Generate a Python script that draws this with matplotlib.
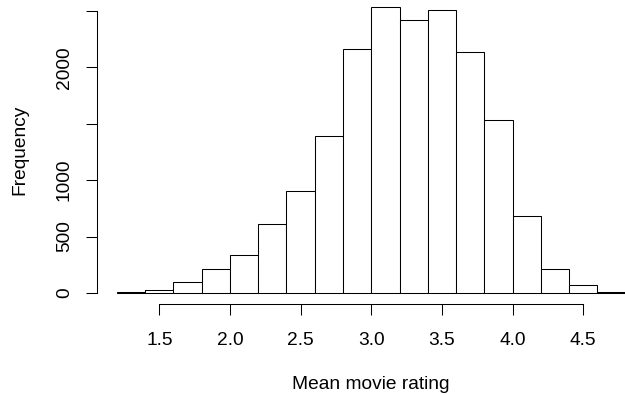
import matplotlib
matplotlib.use("Agg")
import matplotlib.pyplot as plt
import numpy as np

plt.rcParams['font.family'] = ['Liberation Sans', 'DejaVu Sans']

# histogram of mean movie ratings, bins of width 0.2
bin_edges = [1.2, 1.4, 1.6, 1.8, 2.0, 2.2, 2.4, 2.6, 2.8, 3.0,
             3.2, 3.4, 3.6, 3.8, 4.0, 4.2, 4.4, 4.6, 4.8]
counts = [10, 27, 95, 213, 339, 608, 901, 1391, 2164, 2536,
          2421, 2504, 2132, 1532, 679, 213, 74, 12]

x_ticks = [1.5, 2.0, 2.5, 3.0, 3.5, 4.0, 4.5]
x_tick_labels = ["1.5", "2.0", "2.5", "3.0", "3.5", "4.0", "4.5"]
y_ticks = [0, 500, 1000, 1500, 2000, 2500]
y_tick_labels = ["0", "500", "1000", "", "2000", ""]

fig = plt.figure(figsize=(6.25, 3.95), dpi=100)
ax = fig.add_axes([0.1544, 0.2294, 0.8792, 0.7825])

edges = np.array(bin_edges)
ax.bar(edges[:-1], counts, width=np.diff(edges), align='edge',
       facecolor='white', edgecolor='black', linewidth=0.75)

# R style: 4% extension on both axes
x_rng = edges[-1] - edges[0]
ax.set_xlim(edges[0] - 0.04 * x_rng, edges[-1] + 0.04 * x_rng)
ymax = max(counts)
ax.set_ylim(-0.04 * ymax, 1.04 * ymax)

for s in ['top', 'right']:
    ax.spines[s].set_visible(False)
ax.spines['left'].set_bounds(0, 2500)
ax.spines['bottom'].set_bounds(1.5, 4.5)
ax.spines['left'].set_linewidth(0.75)
ax.spines['bottom'].set_linewidth(0.75)

ax.set_xticks(x_ticks)
ax.set_xticklabels(x_tick_labels)
ax.set_yticks(y_ticks)
ax.set_yticklabels(y_tick_labels, rotation=90, va='center')
ax.tick_params(axis='both', length=8, width=0.75, labelsize=13.8)
ax.tick_params(axis='x', pad=12)
ax.tick_params(axis='y', pad=9)

ax.set_xlabel("Mean movie rating", fontsize=13.8, labelpad=19)
ax.set_ylabel("Frequency", fontsize=13.8, labelpad=20)

fig.savefig("out.png", dpi=100)
